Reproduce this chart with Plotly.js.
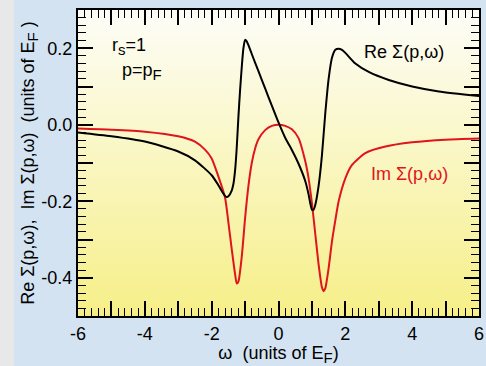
<!DOCTYPE html>
<html><head><meta charset="utf-8">
<script src="https://cdn.plot.ly/plotly-3.0.1.min.js"></script>
<style>html,body{margin:0;padding:0;background:#e8e8e8;overflow:hidden}
#plot{position:absolute;left:14px;top:0;width:472px;height:366px}</style>
</head><body><div id="plot"></div>
<script>
const omegaRe = [-6, -5, -4, -3, -2.5, -2, -1.8, -1.7, -1.6, -1.55, -1.5, -1.4, -1.35, -1.3, -1.25, -1.2, -1.15, -1.1, -1.05, -1.0, -0.95, -0.9, -0.8, -0.6, -0.4, -0.2, 0, 0.2, 0.4, 0.6, 0.8, 0.9, 0.95, 1.0, 1.05, 1.1, 1.2, 1.3, 1.4, 1.5, 1.6, 1.7, 1.8, 1.9, 2.0, 2.3, 2.7, 3.3, 4, 4.8, 6];
const reSigma = [-0.020, -0.030, -0.044, -0.070, -0.093, -0.132, -0.158, -0.173, -0.186, -0.189, -0.187, -0.172, -0.155, -0.120, -0.060, 0.020, 0.090, 0.150, 0.200, 0.222, 0.218, 0.208, 0.185, 0.140, 0.095, 0.050, 0.006, -0.034, -0.066, -0.102, -0.147, -0.182, -0.205, -0.222, -0.222, -0.210, -0.160, -0.080, 0.030, 0.120, 0.175, 0.196, 0.199, 0.196, 0.188, 0.160, 0.138, 0.117, 0.100, 0.087, 0.075];
const omegaIm = [-6, -5, -4, -3, -2.5, -2.2, -2.0, -1.8, -1.6, -1.5, -1.4, -1.3, -1.25, -1.2, -1.1, -1.0, -0.9, -0.8, -0.7, -0.6, -0.4, -0.2, 0, 0.2, 0.4, 0.6, 0.8, 0.9, 1.0, 1.1, 1.2, 1.3, 1.35, 1.4, 1.5, 1.6, 1.7, 1.8, 2.0, 2.2, 2.6, 3.2, 4, 5, 6];
const imSigma = [-0.010, -0.013, -0.018, -0.030, -0.044, -0.065, -0.088, -0.135, -0.190, -0.255, -0.325, -0.390, -0.415, -0.410, -0.345, -0.245, -0.160, -0.100, -0.062, -0.038, -0.014, -0.003, 0.000, -0.003, -0.012, -0.035, -0.095, -0.140, -0.205, -0.285, -0.365, -0.425, -0.435, -0.428, -0.375, -0.305, -0.250, -0.200, -0.140, -0.105, -0.074, -0.057, -0.046, -0.039, -0.036];
const xTickVals = [-6, -5, -4, -3, -2, -1, 0, 1, 2, 3, 4, 5, 6];
const xTickText = ['-6', '', '-4', '', '-2', '', '0', '', '2', '', '4', '', '6'];
const yTickVals = [-0.5, -0.4, -0.3, -0.2, -0.1, 0, 0.1, 0.2, 0.3];
const yTickText = ['', '-0.4', '', '-0.2', '', '0.0', '', '0.2', ''];

const FONT = 'Liberation Sans, Arial, sans-serif';
const sub = s => '<sub><span style="font-size:15px">' + s + '</span></sub>';
const svg = "<svg xmlns='http://www.w3.org/2000/svg' width='10' height='100' preserveAspectRatio='none'><defs><linearGradient id='g' x1='0' y1='0' x2='0' y2='1'><stop offset='0' stop-color='#fdfdf8'/><stop offset='1' stop-color='#f6ef88'/></linearGradient></defs><rect width='10' height='100' fill='url(#g)'/></svg>";
const bg = 'data:image/svg+xml;charset=utf-8,' + encodeURIComponent(svg);

const traces = [
  {x: omegaIm, y: imSigma, type: 'scatter', mode: 'lines', line: {color: '#e0141e', width: 2, shape: 'spline', smoothing: 0.6}, hoverinfo: 'skip'},
  {x: omegaRe, y: reSigma, type: 'scatter', mode: 'lines', line: {color: '#000000', width: 2, shape: 'spline', smoothing: 0.6}, hoverinfo: 'skip'}
];
const axisCommon = {
  showline: true, linewidth: 2, linecolor: '#000', mirror: 'ticks',
  ticks: 'inside', ticklen: 15, tickwidth: 2, tickcolor: '#000',
  showgrid: false, zeroline: false, tickmode: 'array',
  tickfont: {family: FONT, size: 18, color: '#000'}
};
const layout = {
  width: 472, height: 366,
  margin: {l: 64, r: 7, t: 10, b: 50},
  paper_bgcolor: '#d3e3f1', plot_bgcolor: 'rgba(0,0,0,0)',
  showlegend: false,
  font: {family: FONT, size: 18, color: '#000'},
  images: [{source: bg, xref: 'paper', yref: 'paper', x: 0, y: 1, sizex: 1, sizey: 1, sizing: 'stretch', layer: 'below', xanchor: 'left', yanchor: 'top'}],
  xaxis: Object.assign({}, axisCommon, {
    range: [-6, 6], tickvals: xTickVals, ticktext: xTickText,
    minor: {dtick: 0.2, tick0: 0, ticks: 'inside', ticklen: 8, tickwidth: 1, tickcolor: '#000'},
    title: {text: 'ω\u00a0 (units of E' + sub('F') + ')', font: {family: FONT, size: 18}, standoff: 0}
  }),
  yaxis: Object.assign({}, axisCommon, {
    range: [-0.5, 0.3], tickvals: yTickVals, ticktext: yTickText,
    minor: {dtick: 0.02, tick0: 0, ticks: 'inside', ticklen: 8, tickwidth: 1, tickcolor: '#000'},
    title: {text: 'Re Σ(p,ω),\u00a0 Im Σ(p,ω)\u00a0 (units of E' + sub('F') + ' )', font: {family: FONT, size: 18}, standoff: 2}
  }),
  annotations: [
    {x: -5.05, y: 0.205, xref: 'x', yref: 'y', text: 'r' + sub('s') + '=1', showarrow: false, xanchor: 'left', yanchor: 'middle', font: {family: FONT, size: 18, color: '#000'}},
    {x: -4.75, y: 0.14, xref: 'x', yref: 'y', text: 'p=p' + sub('F'), showarrow: false, xanchor: 'left', yanchor: 'middle', font: {family: FONT, size: 18, color: '#000'}},
    {x: 2.5, y: 0.19, xref: 'x', yref: 'y', text: 'Re Σ(p,ω)', showarrow: false, xanchor: 'left', yanchor: 'middle', font: {family: FONT, size: 18, color: '#000'}},
    {x: 2.7, y: -0.13, xref: 'x', yref: 'y', text: 'Im Σ(p,ω)', showarrow: false, xanchor: 'left', yanchor: 'middle', font: {family: FONT, size: 18, color: '#e0141e'}}
  ]
};
Plotly.newPlot('plot', traces, layout, {staticPlot: true, displayModeBar: false});
</script></body></html>
